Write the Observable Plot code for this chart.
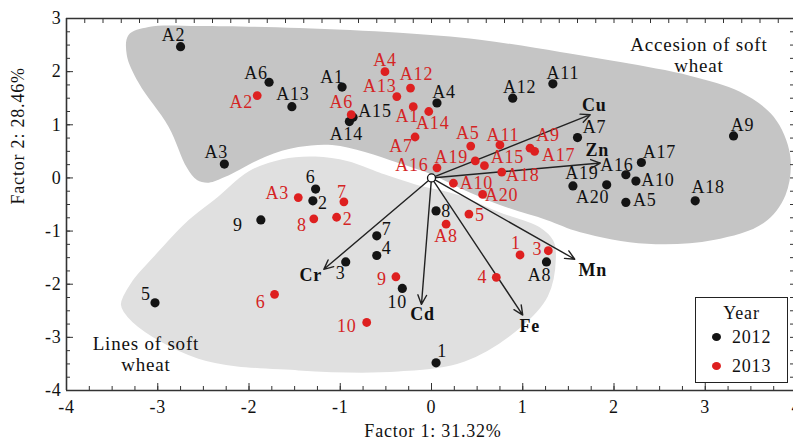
<!DOCTYPE html>
<html>
<head>
<meta charset="utf-8">
<script src="https://cdn.jsdelivr.net/npm/d3@7"></script>
<script src="https://cdn.jsdelivr.net/npm/@observablehq/plot@0.6"></script>
<style>
  html, body { margin: 0; padding: 0; background: #fff; }
  #wrap { position: relative; width: 793px; height: 443px; overflow: hidden; }
  #wrap svg text { font-family: "Liberation Serif", "Times New Roman", serif; letter-spacing: 0.8px; }
  #legend { position: absolute; left: 695px; top: 297px; width: 93px; height: 86px; box-sizing: border-box;
            border: 1.6px solid #222; background: #fff; font-family: "Liberation Serif", serif; font-size: 18px; color: #111; letter-spacing: 0.8px; }
  #legend .ttl { position: absolute; left: 0; width: 100%; top: 5px; text-align: center; }
  #legend .row { position: absolute; left: 16px; line-height: 20px; }
  #legend .dot { display: inline-block; width: 9px; height: 8px; border-radius: 50%; margin-right: 11px; vertical-align: 2px; }
</style>
</head>
<body>
<div id="wrap"></div>
<script>
// ---------- data ----------
const names2012 = ["A1","A2","A3","A4","A5","A6","A7","A8","A9","A10","A11","A12","A13","A14","A15","A16","A17","A18","A19","A20","1","2","3","4","5","6","7","8","9","10"];
const f1_2012 = [-0.98,-2.75,-2.27,0.06,2.13,-1.78,1.60,1.26,3.31,2.24,1.33,0.89,-1.53,-0.90,-0.86,2.13,2.30,2.89,1.55,1.92, 0.05,-1.30,-0.94,-0.60,-3.03,-1.27,-0.60,0.05,-1.87,-0.32];
const f2_2012 = [1.71,2.47,0.26,1.41,-0.46,1.80,0.76,-1.58,0.79,-0.06,1.77,1.50,1.34,1.06,1.14,0.06,0.29,-0.43,-0.15,-0.13, -3.48,-0.43,-1.58,-1.46,-2.35,-0.21,-1.09,-0.62,-0.79,-2.08];

const names2013 = ["A1","A2","A3","A4","A5","A6","A7","A8","A9","A10","A11","A12","A13","A14","A15","A16","A17","A18","A19","A20","1","2","3","4","5","6","7","8","9","10"];
const f1_2013 = [-0.20,-1.91,-1.46,-0.51,0.43,-0.88,-0.18,0.16,1.08,0.24,0.75,-0.23,-0.38,-0.03,0.58,0.06,1.13,0.77,0.48,0.56, 0.97,-1.04,1.28,0.71,0.41,-1.72,-0.96,-1.29,-0.39,-0.71];
const f2_2013 = [1.34,1.55,-0.37,2.00,0.60,1.19,0.77,-0.87,0.56,-0.10,0.62,1.69,1.53,1.25,0.23,0.19,0.50,0.11,0.32,-0.31, -1.45,-0.74,-1.37,-1.87,-0.68,-2.19,-0.45,-0.77,-1.86,-2.72];

const elements = ["Cu","Zn","Mn","Fe","Cd","Cr"];
const loadF1 = [1.74, 1.85, 1.57, 1.00, -0.11, -1.18];
const loadF2 = [1.19, 0.28, -1.53, -2.58, -2.38, -1.72];

const years = ["2012", "2013"];
const groupNames = ["Accesion of soft\nwheat", "Lines of soft\nwheat"];
const groupLabelF1 = [2.93, -3.13];
const groupLabelF2 = [2.32, -3.31];

const accessionHullF1 = [-3.10,-2.55,-1.45,-0.35,0.53,1.41,2.07,2.84,3.38,3.75,3.93,3.88,3.64,3.09,2.36,1.63,1.26,0.75,0.31,0.01,-0.36,-0.73,-1.09,-1.46,-1.82,-2.26,-2.44,-2.57,-2.68,-2.88,-3.21,-3.34,-3.32];
const accessionHullF2 = [2.84,2.86,2.82,2.73,2.60,2.37,2.18,1.92,1.62,1.15,0.43,-0.32,-0.85,-1.17,-1.24,-1.02,-0.79,-0.51,-0.19,0.06,0.28,0.49,0.62,0.58,0.40,0.02,-0.09,-0.04,0.19,0.96,1.79,2.32,2.69];
const linesHullF1 = [-3.42,-3.29,-3.07,-2.71,-2.37,-2.01,-1.64,-1.27,-0.91,-0.54,-0.18,0.31,0.75,1.19,1.35,1.38,1.29,0.97,0.37,-0.36,-1.46,-2.56,-3.29];
const linesHullF2 = [-2.39,-1.92,-1.49,-0.83,-0.36,0.15,0.38,0.43,0.34,0.11,-0.09,-0.30,-0.62,-0.90,-1.17,-1.49,-2.24,-2.86,-3.48,-3.67,-3.65,-3.43,-2.73];

const xTicks = [-4,-3,-2,-1,0,1,2,3,4];
const yTicks = [-4,-3,-2,-1,0,1,2,3];
const xTitle = "Factor 1: 31.32%";
const yTitle = "Factor 2: 28.46%";

// ---------- layout / style ----------
const yearColor = {"2012": "#141414", "2013": "#de2020"};
const labelColor = {"2012": "#111", "2013": "#d42424"};
const labelOffsets = {
  "2012": {A1:[-10,-10],A2:[-7,-11],A3:[-8,-12],A4:[7,-11],A5:[19,-2],A6:[-13,-9],A7:[17,-10],A8:[-7,13],A9:[9,-11],A10:[22,-1],
           A11:[10,-11],A12:[7,-11],A13:[1,-12],A14:[-3,13],A15:[22,-6],A16:[-9,-10],A17:[18,-10],A18:[13,-14],A19:[9,-13],A20:[-14,12],
           "1":[6,-12],"2":[10,2],"3":[-5,11],"4":[10,-7],"5":[-9,-9],"6":[-5,-12],"7":[10,-7],"8":[10,0],"9":[-23,5],"10":[-5,14]},
  "2013": {A1:[-6,10],A2:[-16,7],A3:[-21,-4],A4:[0,-11],A5:[-3,-13],A6:[-10,-12],A7:[-14,9],A8:[0,12],A9:[18,-13],A10:[23,0],
           A11:[3,-10],A12:[6,-14],A13:[-17,-10],A14:[4,12],A15:[23,-8],A16:[-25,-3],A17:[24,4],A18:[21,3],A19:[-24,-4],A20:[19,1],
           "1":[-4,-12],"2":[11,2],"3":[-11,-1],"4":[-14,0],"5":[11,1],"6":[-14,8],"7":[-2,-10],"8":[-12,6],"9":[-14,2],"10":[-20,4]}
};
const loadOffsets = {Cu:[4,-9], Zn:[-3,-13], Mn:[18,11], Fe:[7,11], Cd:[1,10], Cr:[-13,6]};

// ---------- build tables ----------
const pts = [
  ...names2012.map((n,i) => ({name:n, f1:f1_2012[i], f2:f2_2012[i], year:"2012"})),
  ...names2013.map((n,i) => ({name:n, f1:f1_2013[i], f2:f2_2013[i], year:"2013"}))
];
const loads = elements.map((e,i) => ({name:e, f1:loadF1[i], f2:loadF2[i]}));
const accHull = accessionHullF1.map((v,i) => ({f1:v, f2:accessionHullF2[i]}));
const linHull = linesHullF1.map((v,i) => ({f1:v, f2:linesHullF2[i]}));
const groups = groupNames.map((g,i) => ({name:g, f1:groupLabelF1[i], f2:groupLabelF2[i]}));
const origin = [{f1:0, f2:0}];
const step = (a,b,s) => d3.range(Math.round((b-a)/s)+1).map(k => +(a + k*s).toFixed(3));
const xMinor = step(xTicks[0], xTicks[xTicks.length-1], 0.25);
const xMinorTop = step(xTicks[0], xTicks[xTicks.length-1], 0.2);
const yMinor = step(yTicks[0], yTicks[yTicks.length-1], 0.25);

const ptLabels = pts.map(d => {
  const o = labelOffsets[d.year][d.name];
  return Plot.text([d], {x:"f1", y:"f2", text:"name", dx:o[0], dy:o[1], fill:labelColor[d.year], fontSize:18});
});
const loadLabels = loads.map(d => {
  const o = loadOffsets[d.name];
  return Plot.text([d], {x:"f1", y:"f2", text:"name", dx:o[0], dy:o[1], fill:"#111", fontSize:18, fontWeight:"bold"});
});

const axisStroke = "#333";
const chart = Plot.plot({
  width: 793, height: 443,
  marginLeft: 66, marginTop: 18, marginBottom: 53, marginRight: 0,
  x: {domain: [xTicks[0], xTicks[xTicks.length-1]], range: [66, 796]},
  y: {domain: [yTicks[0], yTicks[yTicks.length-1]], range: [390, 18]},
  style: {fontFamily: "Liberation Serif", fontSize: "18px", color: "#111", background: "#fff", overflow: "hidden"},
  marks: [
    Plot.line(accHull, {x:"f1", y:"f2", curve:"catmull-rom-closed", fill:"#c5c5c5", stroke:"none"}),
    Plot.line(linHull, {x:"f1", y:"f2", curve:"catmull-rom-closed", fill:"#e0e0e0", stroke:"#fff", strokeWidth:3}),
    Plot.arrow(loads, {x1:0, y1:0, x2:"f1", y2:"f2", stroke:"#222", strokeWidth:1.4, headLength:11, headAngle:50}),
    Plot.dot(pts.filter(d => d.year === "2012"), {x:"f1", y:"f2", r:4.6, fill:yearColor["2012"]}),
    Plot.dot(pts.filter(d => d.year === "2013"), {x:"f1", y:"f2", r:4.4, fill:yearColor["2013"]}),
    Plot.dot(origin, {x:"f1", y:"f2", r:4, fill:"#fff", stroke:"#111", strokeWidth:1.3}),
    ...ptLabels,
    ...loadLabels,
    Plot.text(groups, {x:"f1", y:"f2", text:"name", fill:"#111", fontSize:19, lineHeight:1.1}),
    // frame lines
    Plot.ruleY([yTicks[0], yTicks[yTicks.length-1]], {stroke:axisStroke, strokeWidth:1.6}),
    Plot.ruleX([xTicks[0]], {stroke:axisStroke, strokeWidth:1.6}),
    // bottom axis
    Plot.axisX({anchor:"bottom", ticks:xTicks, tickSize:0, tickPadding:10, tickFormat:d => String(d), fontSize:18, label:null}),
    Plot.axisX({anchor:"bottom", ticks:xMinor, tickSize:-4, tickFormat:() => "", label:null, stroke:axisStroke}),
    Plot.axisX({anchor:"bottom", ticks:xTicks, tickSize:-7, tickFormat:() => "", label:null, stroke:axisStroke}),
    // top axis ticks
    Plot.axisX({anchor:"top", ticks:xMinorTop, tickSize:-4, tickFormat:() => "", label:null, stroke:axisStroke}),
    // left axis
    Plot.axisY({anchor:"left", ticks:yTicks, tickSize:0, tickPadding:5, tickFormat:d => String(d), fontSize:18, label:null}),
    Plot.axisY({anchor:"left", ticks:yMinor, tickSize:-4, tickFormat:() => "", label:null, stroke:axisStroke}),
    Plot.axisY({anchor:"left", ticks:yTicks, tickSize:-7, tickFormat:() => "", label:null, stroke:axisStroke}),
    // right axis ticks
    Plot.axisY({anchor:"right", ticks:yMinor, tickSize:-4, tickFormat:() => "", label:null, stroke:axisStroke}),
    // titles
    Plot.text([xTitle], {frameAnchor:"bottom", dx:3, dy:46, text:d => d, fontSize:18, fill:"#111"}),
    Plot.text([yTitle], {frameAnchor:"left", dx:-48, text:d => d, rotate:-90, fontSize:18, fill:"#111"})
  ]
});
const wrap = document.getElementById("wrap");
wrap.appendChild(chart);

// legend
const legend = document.createElement("div");
legend.id = "legend";
legend.innerHTML = `<div class="ttl">Year</div>` +
  years.map((y,i) => `<div class="row" style="top:${29 + i*29}px"><span class="dot" style="background:${yearColor[y]}"></span>${y}</div>`).join("");
wrap.appendChild(legend);
</script>
</body>
</html>
